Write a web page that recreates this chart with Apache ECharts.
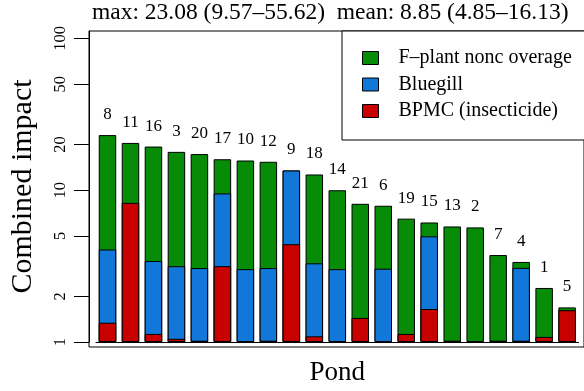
<!DOCTYPE html>
<html>
<head>
<meta charset="utf-8">
<script src="https://cdn.jsdelivr.net/npm/echarts@6/dist/echarts.min.js"></script>
<style>
html, body { margin: 0; padding: 0; background: #fff; }
#chart { width: 584px; height: 391px; }
</style>
</head>
<body>
<div id="chart"></div>
<script>
// pond ids, in the order the bars are drawn
var ponds = ['8', '11', '16', '3', '20', '17', '10', '12', '9', '18', '14', '21', '6', '19', '15', '13', '2', '7', '4', '1', '5'];
// top of each coloured part of the bar (log scale, bars start at 1)
var greenTop = [23.08, 20.5, 19.4, 17.9, 17.3, 16.0, 15.7, 15.4, 13.5, 12.7, 10.0, 8.14, 7.90, 6.50, 6.13, 5.77, 5.69, 3.74, 3.37, 2.27, 1.69];
var blueTop = [4.07, '-', 3.42, 3.16, 3.07, 9.53, 3.02, 3.07, 13.5, 3.30, 3.02, '-', 3.04, '-', 4.97, '-', '-', '-', 3.08, '-', '-'];
var redTop = [1.34, 8.26, 1.13, 1.05, 1.02, 3.16, '-', 1.02, 4.41, 1.09, '-', 1.44, '-', 1.13, 1.65, 1.02, '-', 1.02, 1.02, 1.08, 1.62];
var yTicks = [1, 2, 5, 10, 20, 50, 100];
var legendNames = ['F\u2013plant nonc overage', 'Bluegill', 'BPMC (insecticide)'];
var titleText = 'max: 23.08 (9.57\u201355.62)  mean: 8.85 (4.85\u201316.13)';

var serif = "'Liberation Serif', 'Times New Roman', serif";
var chart = echarts.init(document.getElementById('chart'), null, { renderer: 'canvas' });

function barSeries(name, data, color, withLabel) {
  return {
    name: name,
    type: 'bar',
    xAxisIndex: 0,
    yAxisIndex: 0,
    data: data,
    barWidth: 17.5,
    barGap: '-100%',
    itemStyle: { color: color, borderColor: '#000', borderWidth: 1 },
    label: withLabel ? {
      show: true,
      position: 'top',
      distance: 12,
      color: '#000',
      fontFamily: serif,
      fontSize: 17,
      formatter: function (p) { return ponds[p.dataIndex]; }
    } : { show: false }
  };
}

var option = {
  animation: false,
  backgroundColor: '#fff',
  title: {
    text: titleText,
    left: 92,
    top: 1,
    padding: 0,
    textStyle: { fontFamily: serif, fontSize: 23.5, fontWeight: 'normal', color: '#000' }
  },
  legend: {
    data: legendNames,
    orient: 'vertical',
    left: 342,
    top: 31,
    icon: 'rect',
    itemWidth: 16,
    itemHeight: 13,
    itemGap: 6.5,
    padding: [17, 60, 19, 20],
    borderColor: '#000',
    borderWidth: 1,
    backgroundColor: '#fff',
    selectedMode: false,
    itemStyle: { borderColor: '#000', borderWidth: 1 },
    textStyle: { fontFamily: serif, fontSize: 20, color: '#000', padding: [0, 0, 0, 15] }
  },
  grid: [
    { left: 96, top: 31, width: 482.6, bottom: 44 },
    { left: 89, top: 31, right: -20, bottom: 44, show: true, borderColor: '#000', borderWidth: 1, backgroundColor: 'transparent' }
  ],
  xAxis: [
    {
      type: 'category',
      gridIndex: 0,
      data: ponds,
      axisLine: { show: true, lineStyle: { color: '#000' } },
      axisTick: { show: false },
      axisLabel: { show: false },
      name: 'Pond',
      nameLocation: 'middle',
      nameGap: 17,
      nameTextStyle: { fontFamily: serif, fontSize: 27, color: '#000' }
    },
    { type: 'value', gridIndex: 1, show: false }
  ],
  yAxis: [
    {
      type: 'log',
      logBase: 10,
      gridIndex: 0,
      min: 1,
      max: 112,
      offset: 7,
      axisLine: { show: true, lineStyle: { color: '#000' } },
      axisTick: { show: true, length: 15, customValues: yTicks, lineStyle: { color: '#000' } },
      axisLabel: { customValues: yTicks, rotate: 90, margin: 20, fontFamily: serif, fontSize: 16.5, color: '#000' },
      splitLine: { show: false },
      name: 'Combined impact',
      nameLocation: 'middle',
      nameGap: 51,
      nameTextStyle: { fontFamily: serif, fontSize: 30, color: '#000' }
    },
    { type: 'value', gridIndex: 1, show: false }
  ],
  series: [
    barSeries(legendNames[0], greenTop, '#078C07', true),
    barSeries(legendNames[1], blueTop, '#1177D8', false),
    barSeries(legendNames[2], redTop, '#C80000', false)
  ]
};

chart.setOption(option);
</script>
</body>
</html>
